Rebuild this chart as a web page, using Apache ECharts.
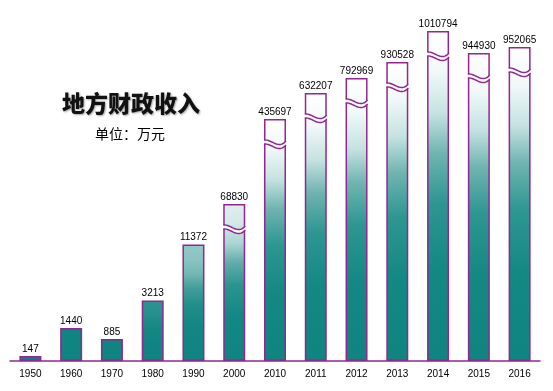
<!DOCTYPE html>
<html><head><meta charset="utf-8">
<script src="https://cdn.jsdelivr.net/npm/echarts@6/dist/echarts.min.js"></script>
<style>html,body{margin:0;padding:0;background:#fff}#c{width:553px;height:391px}</style>
</head><body><div id="c"></div>
<script>
// ---- data ----
const years = ['1950','1960','1970','1980','1990','2000','2010','2011','2012','2013','2014','2015','2016'];
const revenue = [147, 1440, 885, 3213, 11372, 68830, 435697, 632207, 792969, 930528, 1010794, 944930, 952065];
// bar lengths as drawn in the original (not-to-scale) picture, on its hidden display axis
const drawnLength = [5, 33, 22, 60.5, 116.5, 157, 242, 268, 283, 299, 330, 308, 314];
const titleText = '地方财政收入';
const unitText = '单位：万元';
const BREAK_FROM = 50000; // bars above this value are drawn truncated, with a break mark

// ---- styles ----
const PURPLE = '#93278f';
const TEAL = [15, 132, 128];
const baseStops = [
  [0, [255,255,255]], [0.12, [242,249,249]], [0.25, [196,226,225]],
  [0.37, [112,180,177]], [0.52, [46,150,145]], [0.72, [20,136,131]], [1, TEAL]
];
function mix(a, b, t){ return 'rgb(' + a.map((v,k)=>Math.round(v + (b[k]-v)*t)).join(',') + ')'; }
function barGradient(len){
  const L = Math.max(0, Math.min(1, (len - 45) / 130));
  return new echarts.graphic.LinearGradient(0, 0, 0, 1,
    baseStops.map(s => ({offset: s[0], color: mix(TEAL, s[1], L)})));
}

const chart = echarts.init(document.getElementById('c'), null, {renderer: 'canvas'});
const BW = 22;

function bez(p0, p1, p2, p3, t){
  const u = 1 - t;
  return u*u*u*p0 + 3*u*u*t*p1 + 3*u*t*t*p2 + t*t*t*p3;
}
function wave(x0, x1, y){
  const pts = [];
  const w = x1 - x0;
  for (let k = 0; k <= 16; k++){
    const t = k / 16;
    pts.push([bez(x0, x0+0.35*w, x0+0.65*w, x1, t), bez(y, y-1, y+10, y+1, t)]);
  }
  return pts;
}

chart.setOption({
  backgroundColor: '#fff',
  animation: false,
  title: [
    {text: titleText, left: 62, top: 92, padding: 0,
     textStyle: {fontFamily: 'Noto Sans CJK SC', fontSize: 23, fontWeight: 900, color: '#111',
       textShadowColor: 'rgba(0,0,0,0.35)', textShadowBlur: 2, textShadowOffsetX: 1, textShadowOffsetY: 1}},
    {text: unitText, left: 95, top: 127, padding: 0,
     textStyle: {fontFamily: 'Noto Sans CJK SC', fontSize: 14, fontWeight: 'normal', color: '#000'}}
  ],
  grid: {left: 10, right: 13, top: 31, bottom: 30},
  xAxis: {
    type: 'category', data: years,
    axisLine: {lineStyle: {color: PURPLE, width: 1.5}},
    axisTick: {show: false},
    axisLabel: {interval: 0, margin: 8, color: '#000', fontSize: 10, fontFamily: 'Liberation Sans'}
  },
  yAxis: {type: 'value', min: 0, max: 330, show: false, splitLine: {show: false}},
  series: [
    {
      type: 'bar', barWidth: BW,
      data: drawnLength.map((v, i) => ({value: v, itemStyle: {color: barGradient(v)}})),
      itemStyle: {borderColor: PURPLE, borderWidth: 1.5},
      label: {show: true, position: 'top', distance: 2, color: '#000', fontSize: 10,
        fontFamily: 'Liberation Sans', formatter: p => String(revenue[p.dataIndex])}
    },
    {
      type: 'custom', z: 5,
      data: drawnLength.map((v, i) => [i, v]).filter((d, i) => revenue[i] > BREAK_FROM),
      renderItem(params, api){
        const top = api.coord([api.value(0), api.value(1)]);
        const x0 = top[0] - BW/2, x1 = top[0] + BW/2;
        const y = top[1] + 21, g = 4;
        const up = wave(x0, x1, y), lo = wave(x0, x1, y + g);
        const strip = [[x0-2, up[0][1]]].concat(up, [[x1+2, up[up.length-1][1]], [x1+2, lo[lo.length-1][1]]],
          lo.slice().reverse(), [[x0-2, lo[0][1]]]);
        return {type: 'group', children: [
          {type: 'polygon', shape: {points: strip}, style: {fill: '#fff', stroke: null}},
          {type: 'polyline', shape: {points: up}, style: {fill: null, stroke: PURPLE, lineWidth: 1.5}},
          {type: 'polyline', shape: {points: lo}, style: {fill: null, stroke: PURPLE, lineWidth: 1.5}}
        ]};
      }
    }
  ]
});
</script></body></html>
